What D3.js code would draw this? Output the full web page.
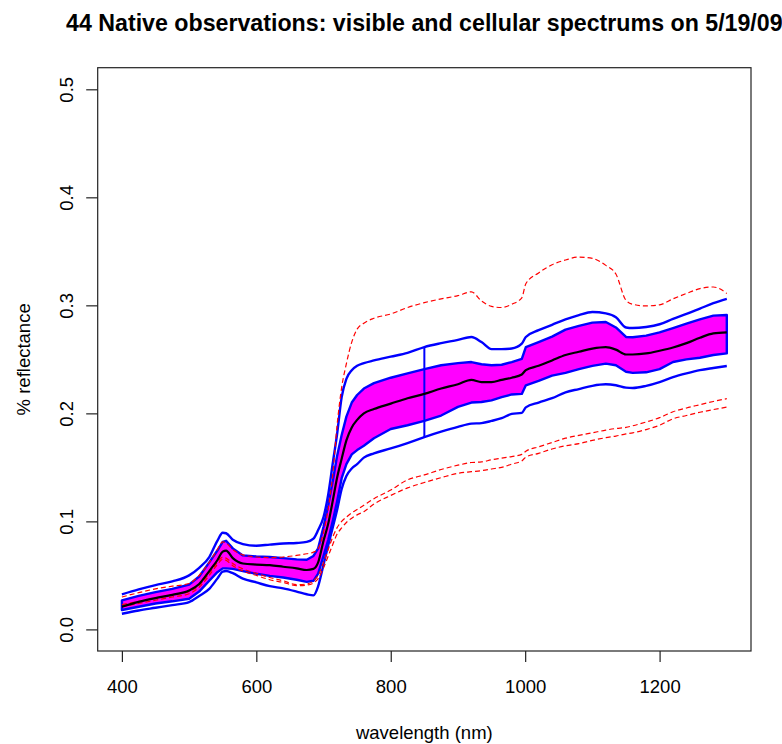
<!DOCTYPE html>
<html>
<head>
<meta charset="utf-8">
<script src="https://cdn.jsdelivr.net/npm/d3@7"></script>
<style>
  html, body { margin: 0; padding: 0; background: #ffffff; }
  svg { display: block; font-family: "Liberation Sans", Arial, sans-serif; }
</style>
</head>
<body>
<svg id="chart" width="782" height="744"></svg>
<script>
// ---------- data ----------
const titleText = "44 Native observations: visible and cellular spectrums on 5/19/09";
const xLabel = "wavelength (nm)";
const yLabel = "% reflectance";
const xTicks = [400, 600, 800, 1000, 1200];
const yTicks = [0.0, 0.1, 0.2, 0.3, 0.4, 0.5];

const wavelengths = [400, 425, 450, 475, 500, 515, 530, 542, 550, 555, 565, 580, 600, 620, 640, 660, 675, 685, 692, 700, 707, 714, 720, 727, 734, 742, 750, 760, 775, 800, 825, 850, 875, 900, 920, 935, 950, 965, 980, 995, 1001, 1020, 1040, 1060, 1080, 1100, 1120, 1135, 1150, 1160, 1180, 1200, 1220, 1240, 1260, 1280, 1300];

const meanRefl = [0.021, 0.0255, 0.029, 0.032, 0.036, 0.042, 0.054, 0.064, 0.072, 0.073, 0.066, 0.061, 0.060, 0.0595, 0.058, 0.0565, 0.055, 0.056, 0.062, 0.082, 0.098, 0.12, 0.14, 0.158, 0.175, 0.187, 0.194, 0.200, 0.204, 0.209, 0.214, 0.218, 0.223, 0.227, 0.231, 0.229, 0.229, 0.231, 0.233, 0.236, 0.240, 0.244, 0.249, 0.254, 0.257, 0.260, 0.2614, 0.259, 0.2545, 0.2545, 0.2555, 0.258, 0.261, 0.265, 0.270, 0.274, 0.275];

const bandUpper = [0.0268, 0.031, 0.0345, 0.0375, 0.0415, 0.049, 0.062, 0.073, 0.081, 0.082, 0.075, 0.0685, 0.0675, 0.067, 0.066, 0.0648, 0.0645, 0.068, 0.075, 0.095, 0.115, 0.138, 0.160, 0.180, 0.197, 0.210, 0.217, 0.223, 0.228, 0.233, 0.237, 0.241, 0.2445, 0.2465, 0.2475, 0.2455, 0.2445, 0.245, 0.2475, 0.2505, 0.2614, 0.266, 0.271, 0.2775, 0.281, 0.284, 0.2846, 0.2795, 0.2707, 0.2705, 0.272, 0.275, 0.279, 0.283, 0.287, 0.2905, 0.291];

const bandLower = [0.018, 0.021, 0.024, 0.026, 0.0284, 0.035, 0.045, 0.053, 0.0565, 0.0565, 0.056, 0.054, 0.0515, 0.0495, 0.048, 0.046, 0.044, 0.045, 0.0516, 0.068, 0.083, 0.101, 0.118, 0.140, 0.153, 0.162, 0.166, 0.170, 0.177, 0.1855, 0.189, 0.193, 0.198, 0.206, 0.210, 0.2105, 0.212, 0.215, 0.2175, 0.218, 0.226, 0.230, 0.235, 0.2375, 0.241, 0.244, 0.246, 0.2445, 0.2385, 0.2375, 0.238, 0.241, 0.2475, 0.250, 0.2515, 0.254, 0.2555];

const outerUpper = [0.0324, 0.037, 0.041, 0.0445, 0.050, 0.057, 0.067, 0.082, 0.0895, 0.089, 0.083, 0.079, 0.0775, 0.0785, 0.0795, 0.080, 0.081, 0.084, 0.092, 0.104, 0.125, 0.155, 0.180, 0.215, 0.232, 0.240, 0.244, 0.2465, 0.249, 0.2525, 0.256, 0.2614, 0.265, 0.268, 0.2707, 0.266, 0.2595, 0.2595, 0.260, 0.2645, 0.2707, 0.277, 0.282, 0.287, 0.291, 0.2938, 0.2925, 0.289, 0.2795, 0.279, 0.280, 0.2825, 0.2875, 0.292, 0.297, 0.302, 0.306];

const outerLower = [0.0145, 0.0175, 0.020, 0.0225, 0.0253, 0.031, 0.0375, 0.047, 0.0535, 0.054, 0.052, 0.047, 0.0435, 0.040, 0.038, 0.035, 0.0325, 0.0315, 0.040, 0.060, 0.078, 0.095, 0.110, 0.130, 0.142, 0.149, 0.153, 0.159, 0.163, 0.1675, 0.1725, 0.178, 0.183, 0.1875, 0.1905, 0.191, 0.193, 0.1955, 0.1995, 0.2005, 0.2055, 0.210, 0.214, 0.2195, 0.2225, 0.2255, 0.2269, 0.226, 0.2238, 0.2235, 0.2255, 0.229, 0.2335, 0.237, 0.240, 0.242, 0.2438];

const maxRefl = [0.030, 0.034, 0.0375, 0.040, 0.0425, 0.050, 0.062, 0.074, 0.081, 0.080, 0.074, 0.069, 0.067, 0.0665, 0.067, 0.0685, 0.070, 0.0715, 0.075, 0.090, 0.112, 0.145, 0.188, 0.224, 0.246, 0.266, 0.278, 0.2835, 0.288, 0.292, 0.298, 0.3025, 0.306, 0.309, 0.3125, 0.304, 0.299, 0.298, 0.301, 0.307, 0.320, 0.330, 0.3375, 0.342, 0.3447, 0.3435, 0.337, 0.329, 0.3046, 0.301, 0.2995, 0.3005, 0.306, 0.311, 0.3155, 0.317, 0.311];

const lowRefl1 = [0.023, 0.026, 0.029, 0.032, 0.035, 0.041, 0.052, 0.062, 0.067, 0.066, 0.061, 0.056, 0.052, 0.048, 0.045, 0.0415, 0.042, 0.045, 0.050, 0.062, 0.074, 0.086, 0.094, 0.100, 0.104, 0.108, 0.111, 0.115, 0.121, 0.129, 0.1385, 0.143, 0.148, 0.152, 0.1545, 0.155, 0.157, 0.1585, 0.160, 0.162, 0.165, 0.169, 0.173, 0.177, 0.1796, 0.182, 0.1845, 0.186, 0.187, 0.1885, 0.192, 0.196, 0.2015, 0.205, 0.208, 0.211, 0.2136];

const lowRefl2 = [0.021, 0.024, 0.027, 0.030, 0.033, 0.039, 0.050, 0.060, 0.065, 0.064, 0.059, 0.054, 0.050, 0.046, 0.0435, 0.0405, 0.041, 0.043, 0.047, 0.057, 0.068, 0.079, 0.088, 0.094, 0.099, 0.103, 0.106, 0.109, 0.116, 0.124, 0.131, 0.136, 0.1405, 0.1445, 0.146, 0.147, 0.1485, 0.150, 0.153, 0.156, 0.1595, 0.163, 0.167, 0.170, 0.172, 0.175, 0.1775, 0.179, 0.181, 0.182, 0.185, 0.189, 0.195, 0.198, 0.201, 0.2035, 0.2058];

const markerWavelength = 850;

// ---------- layout ----------
const svg = d3.select("#chart");
const plotLeft = 97.7, plotRight = 751, plotTop = 67.7, plotBottom = 651;

const x = d3.scaleLinear().domain([364, 1336]).range([plotLeft, plotRight]);
const y = d3.scaleLinear().domain([-0.02, 0.52]).range([plotBottom, plotTop]);

const toPts = arr => wavelengths.map((w, i) => [w, arr[i]]);
const line = d3.line().x(d => x(d[0])).y(d => y(d[1])).curve(d3.curveMonotoneX);

const g = svg.append("g");

// magenta band (polygon with blue border)
const bandPts = toPts(bandUpper).concat(toPts(bandLower).reverse());
g.append("path")
  .attr("d", d3.line().x(d => x(d[0])).y(d => y(d[1]))(bandPts) + "Z")
  .attr("fill", "#ff00ff")
  .attr("stroke", "#0000ff")
  .attr("stroke-width", 2.4)
  .attr("stroke-linejoin", "round");

// outer blue lines
[outerUpper, outerLower].forEach(arr => {
  g.append("path")
    .attr("d", line(toPts(arr)))
    .attr("fill", "none")
    .attr("stroke", "#0000ff")
    .attr("stroke-width", 2.4)
    .attr("stroke-linejoin", "round");
});

// vertical marker at 850 nm
const mi = wavelengths.indexOf(markerWavelength);
g.append("line")
  .attr("x1", x(markerWavelength)).attr("x2", x(markerWavelength))
  .attr("y1", y(outerUpper[mi])).attr("y2", y(outerLower[mi]))
  .attr("stroke", "#0000ff").attr("stroke-width", 2);

// red dashed lines
[maxRefl, lowRefl1, lowRefl2].forEach(arr => {
  g.append("path")
    .attr("d", line(toPts(arr)))
    .attr("fill", "none")
    .attr("stroke", "#ff0000")
    .attr("stroke-width", 1.2)
    .attr("stroke-dasharray", "5,3");
});

// mean line
g.append("path")
  .attr("d", line(toPts(meanRefl)))
  .attr("fill", "none")
  .attr("stroke", "#000000")
  .attr("stroke-width", 2.2)
  .attr("stroke-linejoin", "round");

// box
svg.append("rect")
  .attr("x", plotLeft).attr("y", plotTop)
  .attr("width", plotRight - plotLeft).attr("height", plotBottom - plotTop)
  .attr("fill", "none").attr("stroke", "#222").attr("stroke-width", 1.2);

// x axis
const xAxis = svg.append("g").attr("transform", `translate(0,${plotBottom})`)
  .call(d3.axisBottom(x).tickValues(xTicks).tickSize(11).tickFormat(d3.format("d")));
xAxis.select(".domain").remove();
xAxis.selectAll(".tick line").attr("stroke", "#222").attr("stroke-width", 1.2);
xAxis.selectAll(".tick text")
  .attr("y", 42).attr("dy", null)
  .attr("font-size", 18.5).attr("font-family", "Liberation Sans, Arial, sans-serif")
  .attr("fill", "#000");

// y axis
const yAxis = svg.append("g").attr("transform", `translate(${plotLeft},0)`)
  .call(d3.axisLeft(y).tickValues(yTicks).tickSize(11.5).tickFormat(d3.format(".1f")));
yAxis.select(".domain").remove();
yAxis.selectAll(".tick line").attr("stroke", "#222").attr("stroke-width", 1.2);
yAxis.selectAll(".tick text")
  .attr("x", null).attr("dy", null)
  .attr("transform", "translate(-24.5,0) rotate(-90)")
  .attr("text-anchor", "middle")
  .attr("font-size", 18.5).attr("font-family", "Liberation Sans, Arial, sans-serif")
  .attr("fill", "#000");

// titles
svg.append("text")
  .attr("x", (plotLeft + plotRight) / 2).attr("y", 30.5)
  .attr("text-anchor", "middle")
  .attr("font-size", 23.2).attr("font-weight", "bold")
  .attr("fill", "#000")
  .text(titleText);

svg.append("text")
  .attr("x", (plotLeft + plotRight) / 2).attr("y", 739)
  .attr("text-anchor", "middle")
  .attr("font-size", 18.5).attr("fill", "#000")
  .text(xLabel);

svg.append("text")
  .attr("transform", `translate(30,${(plotTop + plotBottom) / 2}) rotate(-90)`)
  .attr("text-anchor", "middle")
  .attr("font-size", 18.5).attr("fill", "#000")
  .text(yLabel);
</script>
</body>
</html>
